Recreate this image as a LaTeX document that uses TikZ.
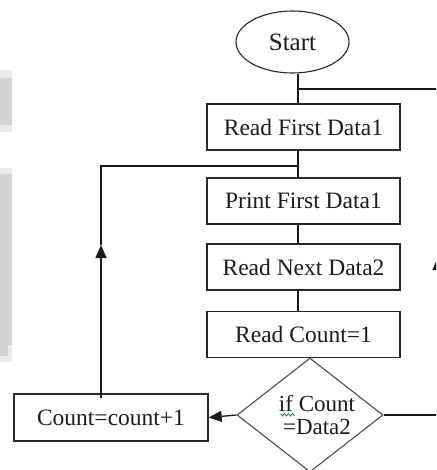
\documentclass[tikz,border=0pt]{standalone}
\usepackage{fontspec}
\setmainfont{Liberation Serif}
\usetikzlibrary{shapes.geometric,arrows.meta}
\definecolor{shadeA}{HTML}{D4D4D4}
\definecolor{shadeB}{HTML}{EAEAEA}
\definecolor{txt}{HTML}{1A1A22}
\tikzset{
  procbox/.style={draw=black!85, line width=1.4pt, rectangle, minimum width=193pt, minimum height=46pt, inner sep=0pt, text=txt, font=\fontsize{23.5}{23.5}\selectfont},
  startnode/.style={draw=black!85, line width=1.1pt, ellipse, minimum width=113pt, minimum height=62pt, inner sep=0pt, text=txt, font=\fontsize{25}{25}\selectfont},
  decnode/.style={draw=black!70, line width=1.1pt, diamond, minimum width=146pt, minimum height=114pt, inner sep=0pt},
  dectext/.style={align=center, inner sep=0pt, text=txt, font=\fontsize{23}{23}\selectfont},
  conn/.style={draw=black!90, line width=1.3pt},
  tri/.style={-{Triangle[width=11pt,length=13pt]}}
}
\begin{document}
\begin{tikzpicture}[x=1pt,y=-1pt]
\useasboundingbox (0,0) rectangle (436,470);
\clip (0,0) rectangle (436,470);
% left grey shading
\fill[shadeB] (0,70) rectangle (12,132);
\fill[shadeA] (0,78) rectangle (12,125);
\fill[shadeB] (0,168) rectangle (12,362);
\fill[shadeA] (0,174) rectangle (12,345);
\fill[shadeA] (0,345) rectangle (8,356);
% nodes
\node[startnode] (st) at (292.5,42) {Start};
\node[procbox] (r1) at (303.5,127) {Read First Data1};
\node[procbox] (p1) at (303.5,201) {Print First Data1};
\node[procbox] (r2) at (303.5,267) {Read Next Data2};
\node[procbox] (rc) at (303.5,334.5) {Read Count=1};
\node[decnode] (d) at (310,415) {};
\node[dectext] (dt) at (317,415.5) {if Count\\=Data2};
\node[procbox, minimum width=194pt, minimum height=47pt] (cc) at (111,417.5) {Count=count+1};
% helper coordinates
\coordinate (mx) at (298,0);
\coordinate (lx) at (101,0);
\coordinate (rx) at (438,0);
\coordinate (j1) at (298,89);
\coordinate (j2) at (298,166);
\coordinate (lt) at (101,245);
\coordinate (rt) at (438,257);
% connectors
\draw[conn] (st.south -| mx) -- (r1.north -| mx);
\draw[conn] (r1.south -| mx) -- (p1.north -| mx);
\draw[conn] (p1.south -| mx) -- (r2.north -| mx);
\draw[conn] (r2.south -| mx) -- (rc.north -| mx);
\draw[conn] (j1) -- (j1 -| rx) -- (rt);
\draw[conn,tri] (d.east -| rx) -- (rt);
\draw[conn] (d.east) -- (d.east -| rx);
\draw[conn,tri] (d.west) -- (cc.east);
\draw[conn,tri] ([yshift=-5pt]cc.north -| lx) -- (lt);
\draw[conn] (lt) -- (lx |- j2) -- (j2);
% spell-check squiggle under "if"
\draw[green!55!black, line width=0.7pt] (280.5,413.5) -- ++(2,2.5) -- ++(2,-2.5) -- ++(2,2.5) -- ++(2,-2.5) -- ++(2,2.5) -- ++(2,-2.5) -- ++(2,2.5);
\end{tikzpicture}
\end{document}
